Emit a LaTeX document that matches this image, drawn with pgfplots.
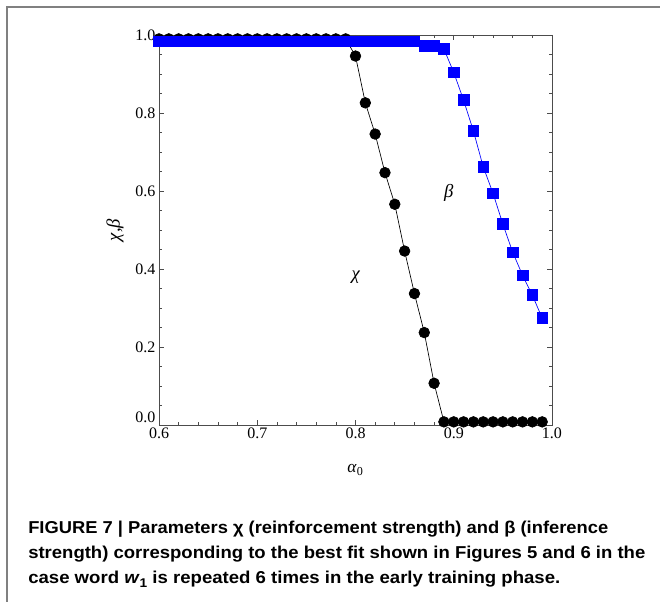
\documentclass[border=0pt]{standalone}
\usepackage{fontspec}
\setmainfont{Liberation Serif}
\newfontfamily\capfont{Liberation Sans}
\usepackage{graphicx}
\usepackage{pgfplots}
\pgfplotsset{compat=1.18}
\definecolor{sqblue}{RGB}{0,0,255}
\begin{document}
\begin{tikzpicture}
\useasboundingbox (0,0) rectangle (495pt,451.5pt);
\draw[line width=1.4pt, black!50] (5.25pt,-2pt) -- (5.25pt,446.25pt) -- (497pt,446.25pt);
\begin{axis}[
  at={(119.25pt,132.75pt)}, anchor=south west,
  scale only axis, width=294.75pt, height=292.5pt,
  xmin=0.6, xmax=1.0, ymin=0, ymax=1,
  xtick={0.6,0.7,0.8,0.9,1.0},
  xticklabels={0.6,0.7,0.8,0.9,1.0},
  ytick={0,0.2,0.4,0.6,0.8,1.0},
  yticklabels={{\smash{\raisebox{1.8pt}{0.0}}},0.2,0.4,0.6,0.8,1.0},
  minor x tick num=4, minor y tick num=3,
  tick align=inside,
  major tick length=3.4pt, minor tick length=1.9pt,
  axis line style={black!70, line width=0.6pt},
  every tick/.style={black!70, line width=0.5pt},
  x tick label style={inner sep=1.6pt},
  y tick label style={inner sep=2.6pt},
  tick label style={font=\fontsize{12}{14}\selectfont},
  xlabel={\textit{α}\textsubscript{0}},
  ylabel={\textit{χ,β}},
  xlabel style={at={(axis description cs:0.5,-0.123)}, anchor=base, font=\fontsize{13}{15}\selectfont},
  ylabel style={at={(axis description cs:-0.112,0.5)}, anchor=center, font=\fontsize{14}{16}\selectfont},
]
\addplot[black, line width=0.5pt, mark=*, mark size=4pt, mark options={fill=black, draw=black}] coordinates {
(0.60,0.99)(0.61,0.99)(0.62,0.99)(0.63,0.99)(0.64,0.99)(0.65,0.99)(0.66,0.99)(0.67,0.99)(0.68,0.99)(0.69,0.99)
(0.70,0.99)(0.71,0.99)(0.72,0.99)(0.73,0.99)(0.74,0.99)(0.75,0.99)(0.76,0.99)(0.77,0.99)(0.78,0.99)(0.79,0.99)
(0.80,0.946)(0.81,0.826)(0.82,0.746)(0.83,0.647)(0.84,0.566)(0.85,0.446)(0.86,0.337)(0.87,0.237)(0.88,0.107)
(0.89,0.008)(0.90,0.008)(0.91,0.008)(0.92,0.008)(0.93,0.008)(0.94,0.008)(0.95,0.008)(0.96,0.008)(0.97,0.008)(0.98,0.008)(0.99,0.008)
};
\addplot[sqblue, line width=0.5pt, mark=square*, mark size=4pt, mark options={fill=sqblue, draw=sqblue}] coordinates {
(0.60,0.984)(0.61,0.984)(0.62,0.984)(0.63,0.984)(0.64,0.984)(0.65,0.984)(0.66,0.984)(0.67,0.984)(0.68,0.984)(0.69,0.984)
(0.70,0.984)(0.71,0.984)(0.72,0.984)(0.73,0.984)(0.74,0.984)(0.75,0.984)(0.76,0.984)(0.77,0.984)(0.78,0.984)(0.79,0.984)
(0.80,0.984)(0.81,0.984)(0.82,0.984)(0.83,0.984)(0.84,0.984)(0.85,0.984)(0.86,0.984)
(0.87,0.973)(0.88,0.973)(0.89,0.964)(0.90,0.904)(0.91,0.833)(0.92,0.754)(0.93,0.662)(0.94,0.594)
(0.95,0.515)(0.96,0.443)(0.97,0.384)(0.98,0.333)(0.99,0.274)
};
\node[font=\fontsize{14}{16}\selectfont] at (axis cs:0.895,0.596) {\textit{β}};
\node[font=\fontsize{14}{16}\selectfont] at (axis cs:0.8005,0.38) {\textit{χ}};
\end{axis}
\node[anchor=base west, inner sep=0pt] at (21pt,51pt) {\capfont\bfseries\fontsize{12.9pt}{15pt}\selectfont\resizebox{435pt}{\height}{FIGURE 7 | Parameters χ (reinforcement strength) and β (inference}};
\node[anchor=base west, inner sep=0pt] at (21pt,32.25pt) {\capfont\bfseries\fontsize{12.9pt}{15pt}\selectfont\resizebox{462.75pt}{\height}{strength) corresponding to the best fit shown in Figures 5 and 6 in the}};
\node[anchor=base west, inner sep=0pt] at (21pt,13.5pt) {\capfont\bfseries\fontsize{12.9pt}{15pt}\selectfont\resizebox{399pt}{\height}{case word \textit{w}\raisebox{-0.35ex}{\fontsize{9.5pt}{10pt}\selectfont 1} is repeated 6 times in the early training phase.}};
\end{tikzpicture}
\end{document}
